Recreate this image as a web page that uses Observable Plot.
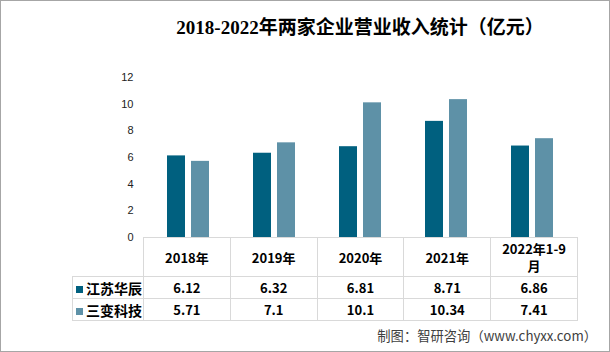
<!DOCTYPE html>
<html><head><meta charset="utf-8">
<script src="https://cdn.jsdelivr.net/npm/d3@7"></script>
<script src="https://cdn.jsdelivr.net/npm/@observablehq/plot@0.6"></script>
<style>
body{margin:0;background:#fff;}
#root{position:relative;width:610px;height:352px;overflow:hidden;background:#fff;font-family:"Noto Sans CJK SC","Noto Sans",sans-serif;}
#frame{position:absolute;left:0;top:0;width:610px;height:352px;box-sizing:border-box;border:1px solid #a6a6a6;pointer-events:none;}
#title{position:absolute;left:160px;width:400px;top:15px;text-align:center;font-family:"Liberation Serif","Noto Sans CJK SC",serif;font-weight:bold;font-size:19px;line-height:26px;color:#000;white-space:nowrap;}
#plot{position:absolute;left:0;top:0;}
#tbl{position:absolute;left:72px;top:237px;border-collapse:collapse;table-layout:fixed;width:505px;font-weight:bold;font-size:13px;color:#000;}
#tbl td{border:1px solid #d9d9d9;text-align:center;padding:0;}
#tbl td.corner{border-top:none;border-left:none;}
#tbl tr.head td{height:38px;line-height:17px;}
#tbl tr.row td{height:21px;line-height:20px;}
#tbl td.lg{text-align:left;font-size:14px;padding-left:3px;white-space:nowrap;}
.sw{display:inline-block;width:7px;height:7px;margin-right:3px;vertical-align:1px;}
.hd{display:inline-block;width:68px;}
#cap{position:absolute;right:13px;top:326px;font-size:13.3px;color:#404040;white-space:nowrap;}
</style></head>
<body>
<div id="root">
  <div id="plot"></div>
  <div id="title"></div>
  <table id="tbl"></table>
  <div id="cap"></div>
  <div id="frame"></div>
</div>
<script>
const titleText = "2018-2022年两家企业营业收入统计（亿元）";
const captionText = "制图：智研咨询（www.chyxx.com）";
const categories = ["2018年","2019年","2020年","2021年","2022年1-9月"];
const seriesNames = ["江苏华辰","三变科技"];
const jiangsu = [6.12, 6.32, 6.81, 8.71, 6.86];
const sanbian = [5.71, 7.1, 10.1, 10.34, 7.41];
const seriesValues = [jiangsu, sanbian];
const colors = ["#00607f", "#5e91a7"];
const yTicks = [0, 2, 4, 6, 8, 10, 12];

const data = categories.flatMap((c, i) =>
  seriesNames.map((s, j) => ({cat: c, series: s, value: seriesValues[j][i]})));

document.getElementById("title").textContent = titleText;
document.getElementById("cap").textContent = captionText;

const chart = Plot.plot({
  width: 610,
  height: 247,
  marginLeft: 143,
  marginRight: 33,
  marginTop: 77,
  marginBottom: 10,
  fx: {domain: categories, padding: 0, axis: null},
  x: {domain: seriesNames, paddingInner: 0.24, paddingOuter: 0.86, axis: null},
  y: {domain: [0, 12], ticks: yTicks, tickSize: 0, tickPadding: 12, label: null},
  color: {domain: seriesNames, range: colors},
  style: {fontSize: "11px", fontFamily: "'Liberation Sans', sans-serif", color: "#222", background: "transparent"},
  marks: [
    Plot.barY(data, {fx: "cat", x: "series", y: "value", fill: "series"}),
    Plot.ruleY([0], {stroke: "#d9d9d9"})
  ]
});
document.getElementById("plot").appendChild(chart);

// data table below the chart
const tbl = document.getElementById("tbl");
const colgroup = document.createElement("colgroup");
const c0 = document.createElement("col"); c0.style.width = "71px"; colgroup.appendChild(c0);
categories.forEach(() => { const c = document.createElement("col"); c.style.width = "86.8px"; colgroup.appendChild(c); });
tbl.appendChild(colgroup);
const head = document.createElement("tr"); head.className = "head";
const corner = document.createElement("td"); corner.className = "corner"; head.appendChild(corner);
categories.forEach(c => {
  const td = document.createElement("td");
  const sp = document.createElement("span"); sp.className = "hd"; sp.textContent = c;
  td.appendChild(sp); head.appendChild(td);
});
tbl.appendChild(head);
seriesNames.forEach((s, j) => {
  const tr = document.createElement("tr"); tr.className = "row";
  const lg = document.createElement("td"); lg.className = "lg";
  const sw = document.createElement("span"); sw.className = "sw"; sw.style.background = colors[j];
  lg.appendChild(sw); lg.appendChild(document.createTextNode(s));
  tr.appendChild(lg);
  seriesValues[j].forEach(v => {
    const td = document.createElement("td"); td.textContent = String(v); tr.appendChild(td);
  });
  tbl.appendChild(tr);
});
</script>
</body></html>
